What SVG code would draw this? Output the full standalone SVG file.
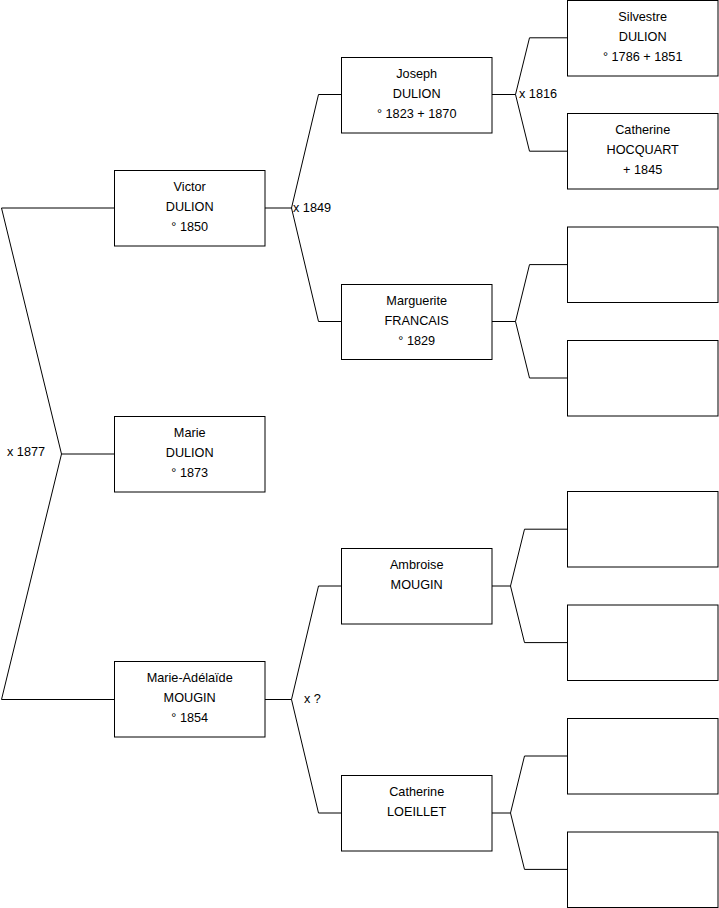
<svg xmlns="http://www.w3.org/2000/svg" width="719" height="908" viewBox="0 0 719 908">
<style>
rect{fill:#fff;stroke:#000;stroke-width:1}
text{font-family:"Liberation Sans",Arial,sans-serif;font-size:12.7px;fill:#000}
.n text{text-anchor:middle}
#connectors path{fill:none;stroke:#000;stroke-width:1}
</style>
<rect x="0" y="0" width="719" height="908" style="stroke:none"/>
<g id="connectors">
<path d="M114,208H1.5L61.5,454L1.5,699.5H114M61.5,454H114"/>
<path d="M265,208H291.5L318.5,94.5H341M291.5,208L318.5,321.5H341"/>
<path d="M265,699.5H291.5L318.5,586H341M291.5,699.5L318.5,813H341"/>
<path d="M492,94.5H515.5L529.5,37.8H567M515.5,94.5L529.5,151.2H567"/>
<path d="M492,321.5H515.5L529.5,264.6H567M515.5,321.5L529.5,378H567"/>
<path d="M492,586H510.5L524.5,529.2H567M510.5,586L524.5,642.6H567"/>
<path d="M492,813H510.5L524.5,756H567M510.5,813L524.5,869.4H567"/>
<text x="7" y="456">x 1877</text>
<text x="293" y="212">x 1849</text>
<text x="519" y="98">x 1816</text>
<text x="304" y="703">x ?</text>
</g>
<g id="victor" class="n"><rect x="114.5" y="170.5" width="150.5" height="75.5"/><text x="189.7" y="191">Victor</text><text x="189.7" y="211">DULION</text><text x="189.7" y="231">° 1850</text></g>
<g id="marie" class="n"><rect x="114.5" y="416.5" width="150.5" height="75.5"/><text x="189.7" y="437">Marie</text><text x="189.7" y="457">DULION</text><text x="189.7" y="477">° 1873</text></g>
<g id="marie-adelaide" class="n"><rect x="114.5" y="661.5" width="150.5" height="75.5"/><text x="189.7" y="682">Marie-Adélaïde</text><text x="189.7" y="702">MOUGIN</text><text x="189.7" y="722">° 1854</text></g>
<g id="joseph" class="n"><rect x="341.5" y="57.5" width="150.5" height="75.5"/><text x="416.7" y="78">Joseph</text><text x="416.7" y="98">DULION</text><text x="416.7" y="118">° 1823 + 1870</text></g>
<g id="marguerite" class="n"><rect x="341.5" y="284.5" width="150.5" height="75"/><text x="416.7" y="304.5">Marguerite</text><text x="416.7" y="324.5">FRANCAIS</text><text x="416.7" y="344.5">° 1829</text></g>
<g id="ambroise" class="n"><rect x="341.5" y="548.5" width="150.5" height="75.5"/><text x="416.7" y="569">Ambroise</text><text x="416.7" y="589">MOUGIN</text></g>
<g id="catherine-loeillet" class="n"><rect x="341.5" y="775.5" width="150.5" height="75.5"/><text x="416.7" y="796">Catherine</text><text x="416.7" y="816">LOEILLET</text></g>
<g id="silvestre" class="n"><rect x="567.5" y="0.5" width="150.5" height="75.5"/><text x="642.7" y="20.5">Silvestre</text><text x="642.7" y="40.5">DULION</text><text x="642.7" y="60.5">° 1786 + 1851</text></g>
<g id="catherine-hocquart" class="n"><rect x="567.5" y="113.5" width="150.5" height="75.5"/><text x="642.7" y="134">Catherine</text><text x="642.7" y="154">HOCQUART</text><text x="642.7" y="174">+ 1845</text></g>
<g id="empty1" class="n"><rect x="567.5" y="227" width="150.5" height="75.5"/></g>
<g id="empty2" class="n"><rect x="567.5" y="340.5" width="150.5" height="75.5"/></g>
<g id="empty3" class="n"><rect x="567.5" y="491.5" width="150.5" height="75.5"/></g>
<g id="empty4" class="n"><rect x="567.5" y="605" width="150.5" height="75.5"/></g>
<g id="empty5" class="n"><rect x="567.5" y="718.5" width="150.5" height="75.5"/></g>
<g id="empty6" class="n"><rect x="567.5" y="832" width="150.5" height="75.5"/></g>
</svg>
